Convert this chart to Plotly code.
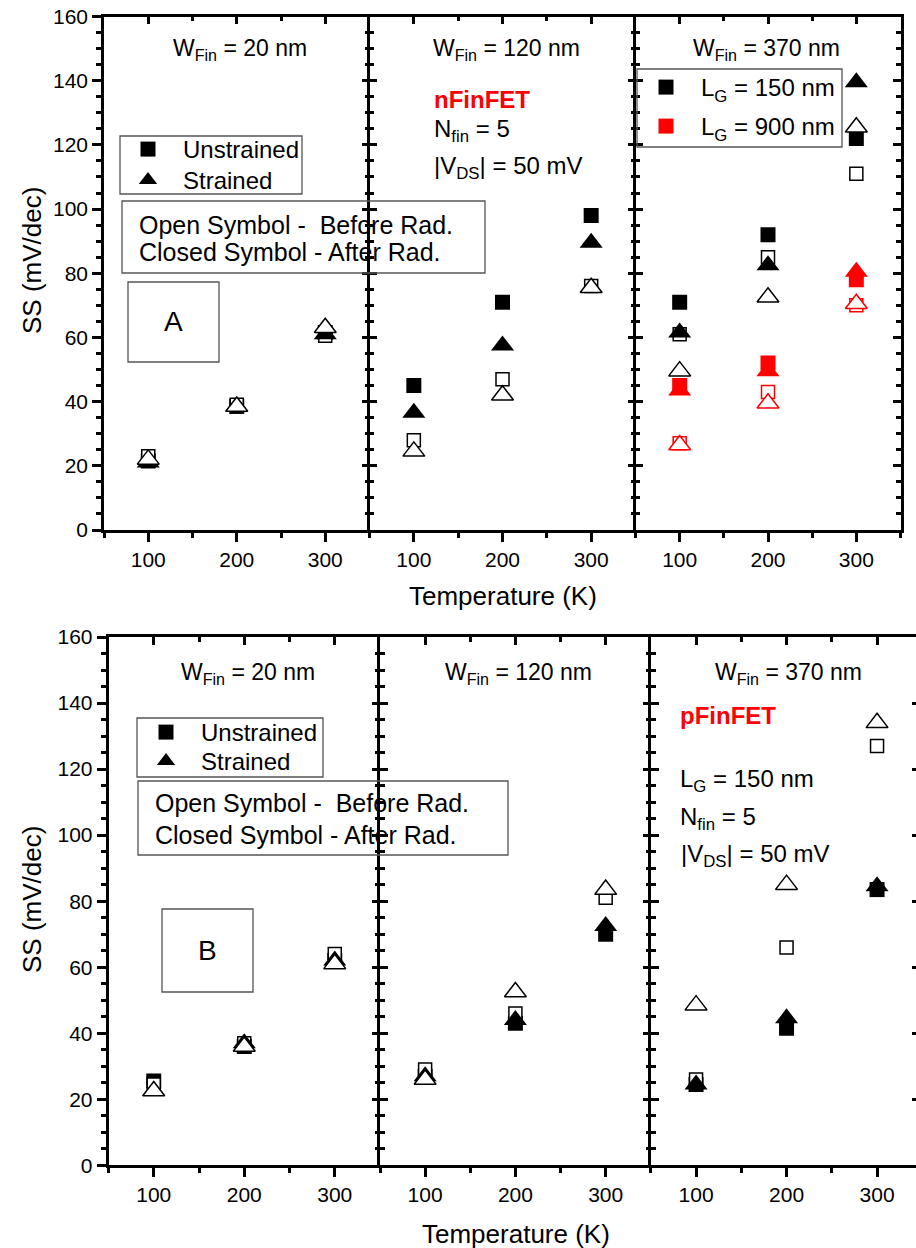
import plotly.graph_objects as go

FIG_W, FIG_H = 916, 1248
FONT = "Liberation Sans, Arial, Helvetica, sans-serif"

# ---------------- data: subthreshold swing SS (mV/dec) ----------------
temperature = [100, 200, 300]

# nFinFET, W_fin = 20 nm
n20_unstrained_after = [21.5, 38.5, 61.5]
n20_strained_after = [21, 38.5, 61]
n20_unstrained_before = [23, 39, 60.5]
n20_strained_before = [22, 38.5, 63]

# nFinFET, W_fin = 120 nm
n120_unstrained_after = [45, 71, 98]
n120_strained_after = [36.5, 57.5, 89.5]
n120_unstrained_before = [28, 47, 76]
n120_strained_before = [24.5, 42, 75.5]

# nFinFET, W_fin = 370 nm, L_G = 150 nm
n370_lg150_unstrained_after = [71, 92, 122]
n370_lg150_strained_after = [61.5, 82.5, 139.5]
n370_lg150_unstrained_before = [61, 85, 111]
n370_lg150_strained_before = [49.5, 72.5, 125.5]

# nFinFET, W_fin = 370 nm, L_G = 900 nm
n370_lg900_unstrained_after = [45, 52, 78]
n370_lg900_strained_after = [43.5, 49.5, 80.5]
n370_lg900_unstrained_before = [27, 43, 70]
n370_lg900_strained_before = [26.5, 39.5, 70.5]

# pFinFET, W_fin = 20 nm
p20_unstrained_after = [25.5, 36, 62]
p20_strained_after = [22.5, 37, 62]
p20_unstrained_before = [24.5, 37, 64]
p20_strained_before = [22.5, 36, 61]

# pFinFET, W_fin = 120 nm
p120_unstrained_after = [27, 43, 70]
p120_strained_after = [27, 44, 72.5]
p120_unstrained_before = [29, 46, 81]
p120_strained_before = [26, 52.5, 83.5]

# pFinFET, W_fin = 370 nm
p370_unstrained_after = [24.5, 41.5, 83.5]
p370_strained_after = [24.5, 44.5, 84.5]
p370_unstrained_before = [26, 66, 127]
p370_strained_before = [48.5, 85, 134]

x_tick_vals = [100, 200, 300]
x_minor_vals = [50, 150, 250, 350]
y_range = [0, 160]

BLACK = "#000000"
RED = "#FF0000"


def px(x):
    return x / FIG_W


def py(y):
    return 1 - y / FIG_H


def series_set(ua, sa, ub, sb, color):
    # draw order: closed square, open square, closed triangle, open triangle
    return [(ua, "square", color, True), (ub, "square", color, False),
            (sa, "triangle-up", color, True), (sb, "triangle-up", color, False)]


# panel layout in pixels: (x0, x1), (ytop, ybottom)
TOP_Y = (16.5, 530.0)
BOT_Y = (637.0, 1165.3)
top_cols = [(104.0, 369.5), (369.5, 635.5), (635.5, 900.5)]
bot_cols = [(108.5, 380.0), (380.0, 650.8), (650.8, 916.0)]
bot_scale = (bot_cols[0][1] - bot_cols[0][0]) / 300.0
bot_last_max = 50 + (bot_cols[2][1] - bot_cols[2][0]) / bot_scale

# right_line: "full" frame line, "shared" (line drawn by the next panel), "none"
panels = [
    dict(xd=top_cols[0], yd=TOP_Y, xr=[50, 350], first=True, right_line="shared",
         series=series_set(n20_unstrained_after, n20_strained_after,
                           n20_unstrained_before, n20_strained_before, BLACK)),
    dict(xd=top_cols[1], yd=TOP_Y, xr=[50, 350], first=False, right_line="shared",
         series=series_set(n120_unstrained_after, n120_strained_after,
                           n120_unstrained_before, n120_strained_before, BLACK)),
    dict(xd=top_cols[2], yd=TOP_Y, xr=[50, 350], first=False, right_line="full",
         series=series_set(n370_lg150_unstrained_after, n370_lg150_strained_after,
                           n370_lg150_unstrained_before, n370_lg150_strained_before, BLACK)
         + series_set(n370_lg900_unstrained_after, n370_lg900_strained_after,
                      n370_lg900_unstrained_before, n370_lg900_strained_before, RED)),
    dict(xd=bot_cols[0], yd=BOT_Y, xr=[50, 350], first=True, right_line="shared",
         series=series_set(p20_unstrained_after, p20_strained_after,
                           p20_unstrained_before, p20_strained_before, BLACK)),
    dict(xd=bot_cols[1], yd=BOT_Y, xr=[50, 350], first=False, right_line="shared",
         series=series_set(p120_unstrained_after, p120_strained_after,
                           p120_unstrained_before, p120_strained_before, BLACK)),
    dict(xd=bot_cols[2], yd=BOT_Y, xr=[50, bot_last_max], first=False, right_line="none",
         series=series_set(p370_unstrained_after, p370_strained_after,
                           p370_unstrained_before, p370_strained_before, BLACK)),
]

fig = go.Figure()
layout = {}
NP = len(panels)
LW = 2.5


def axname(kind, n):
    return f"{kind}axis" if n == 1 else f"{kind}axis{n}"


def axref(kind, n):
    return kind if n == 1 else f"{kind}{n}"


for i, p in enumerate(panels):
    n = i + 1
    nt = n + NP  # overlay axes: top x and right y
    common = dict(showgrid=False, zeroline=False, fixedrange=True,
                  linecolor=BLACK, linewidth=LW, tickcolor=BLACK, tickwidth=LW)
    # bottom x axis
    layout[axname("x", n)] = dict(
        common, domain=[px(p["xd"][0]), px(p["xd"][1])], range=p["xr"],
        anchor=axref("y", n), showline=True, ticks="outside", ticklen=9,
        tickmode="array", tickvals=x_tick_vals, ticktext=[str(v) for v in x_tick_vals],
        tickfont=dict(size=21, color=BLACK, family=FONT),
        minor=dict(tickmode="array", tickvals=x_minor_vals, ticks="outside",
                   ticklen=5, tickwidth=LW, tickcolor=BLACK))
    # top x axis (inward ticks)
    layout[axname("x", nt)] = dict(
        common, overlaying=axref("x", n), side="top", anchor=axref("y", n),
        range=p["xr"], showline=True, ticks="inside", ticklen=8,
        tickmode="array", tickvals=x_tick_vals, showticklabels=False,
        minor=dict(tickmode="array", tickvals=x_minor_vals, ticks="inside",
                   ticklen=5, tickwidth=LW, tickcolor=BLACK))
    # left y axis
    layout[axname("y", n)] = dict(
        common, domain=[py(p["yd"][1]), py(p["yd"][0])], range=y_range,
        anchor=axref("x", n), showline=True,
        ticks="outside" if p["first"] else "inside", ticklen=9 if p["first"] else 8,
        tickmode="linear", tick0=0, dtick=20, showticklabels=p["first"],
        tickfont=dict(size=21, color=BLACK, family=FONT),
        minor=dict(tickmode="linear", tick0=0, dtick=5,
                   ticks="outside" if p["first"] else "inside",
                   ticklen=5, tickwidth=LW, tickcolor=BLACK))
    # right y axis (inward ticks)
    right = dict(common, overlaying=axref("y", n), side="right", anchor=axref("x", n),
                 range=y_range, tickmode="linear", tick0=0, dtick=20,
                 showticklabels=False, ticks="inside")
    if p["right_line"] in ("full", "shared"):
        right.update(showline=(p["right_line"] == "full"), ticklen=8,
                     minor=dict(tickmode="linear", tick0=0, dtick=5, ticks="inside",
                                ticklen=5, tickwidth=LW, tickcolor=BLACK))
    else:
        right.update(showline=False, ticklen=4)
    layout[axname("y", nt)] = right

    # empty traces so that the frame axes (top / right) get rendered
    fig.add_trace(go.Scatter(x=[], y=[], xaxis=axref("x", nt), yaxis=axref("y", n),
                             showlegend=False, hoverinfo="skip"))
    fig.add_trace(go.Scatter(x=[], y=[], xaxis=axref("x", n), yaxis=axref("y", nt),
                             showlegend=False, hoverinfo="skip"))

    for vals, sym, color, filled in p["series"]:
        if filled:
            size = 15 if sym == "square" else 20
            marker = dict(symbol=sym, size=size, color=color, line=dict(width=0))
        else:
            size = 13 if sym == "square" else 19
            marker = dict(symbol=sym, size=size, color="white",
                          line=dict(width=1.5, color=color))
        fig.add_trace(go.Scatter(x=temperature, y=vals, mode="markers", marker=marker,
                                 xaxis=axref("x", n), yaxis=axref("y", n),
                                 showlegend=False, hoverinfo="skip"))

# legend keys: one single-entry legend per key (marker centre x, text middle y)
legend_keys = [
    ("Unstrained", "square", BLACK, 1, 148, 150),
    ("Strained", "triangle-up", BLACK, 1, 148, 181),
    ("L<sub>G</sub> = 150 nm", "square", BLACK, 3, 666, 88),
    ("L<sub>G</sub> = 900 nm", "square", RED, 3, 666, 127),
    ("Unstrained", "square", BLACK, 4, 166, 733),
    ("Strained", "triangle-up", BLACK, 4, 166, 762),
]
ITEM_W = 60
for k, (name, sym, color, n, mx, my) in enumerate(legend_keys):
    lg = "legend" if k == 0 else f"legend{k + 1}"
    fig.add_trace(go.Scatter(x=[None], y=[None], mode="markers", name=name,
                             marker=dict(symbol=sym, size=15 if sym == "square" else 18,
                                         color=color, line=dict(width=0)),
                             xaxis=axref("x", n), yaxis=axref("y", n),
                             legend=lg, showlegend=True, hoverinfo="skip"))
    layout[lg] = dict(xanchor="left", yanchor="top", bgcolor="rgba(0,0,0,0)",
                      borderwidth=0, font=dict(size=24, color=BLACK, family=FONT),
                      itemwidth=ITEM_W, x=px(mx - (5 + ITEM_W / 2)), y=py(my - 23))

shapes = []


def box(x0, y0, x1, y1):
    shapes.append(dict(type="rect", xref="paper", yref="paper",
                       x0=px(x0), x1=px(x1), y0=py(y1), y1=py(y0),
                       line=dict(color="#555555", width=1.3), fillcolor="rgba(0,0,0,0)"))


anns = []


def text(t, x, y, size, xanchor="left", color=BLACK, weight="normal", angle=0):
    anns.append(dict(text=t, x=px(x), y=py(y), xref="paper", yref="paper",
                     xanchor=xanchor, yanchor="middle", showarrow=False,
                     textangle=angle,
                     font=dict(size=size, color=color, family=FONT, weight=weight)))


# top row (nFinFET)
text("W<sub>Fin</sub> = 20 nm", 240, 50, 23, "center")
text("W<sub>Fin</sub> = 120 nm", 506, 50, 23, "center")
text("W<sub>Fin</sub> = 370 nm", 766, 50, 23, "center")
text("nFinFET", 432, 99, 24, color=RED, weight="bold")
text("N<sub>fin</sub> = 5", 432, 131, 24)
text("|V<sub>DS</sub>| = 50 mV", 432, 168, 24)
box(120, 136, 302, 194)
box(637, 69, 842, 147)
box(122, 201, 485, 273)
text("Open Symbol -  Before Rad.", 137, 225, 25)
text("Closed Symbol - After Rad.", 137, 252, 25)
box(128, 282, 219, 362)
text("A", 173, 322, 28, "center")
text("Temperature (K)", 503, 596, 26, "center")
text("SS (mV/dec)", 32, 261, 26, "center", angle=-90)

# bottom row (pFinFET)
text("W<sub>Fin</sub> = 20 nm", 248, 673, 23, "center")
text("W<sub>Fin</sub> = 120 nm", 518, 673, 23, "center")
text("W<sub>Fin</sub> = 370 nm", 788, 673, 23, "center")
text("pFinFET", 678, 715, 24, color=RED, weight="bold")
text("L<sub>G</sub> = 150 nm", 678, 780, 24)
text("N<sub>fin</sub> = 5", 678, 818, 24)
text("|V<sub>DS</sub>| = 50 mV", 679, 855, 24)
box(137, 718, 323, 777)
box(138, 781, 508, 855)
text("Open Symbol -  Before Rad.", 153, 803, 25)
text("Closed Symbol - After Rad.", 153, 835, 25)
box(162, 909, 253, 992)
text("B", 207, 950, 28, "center")
text("Temperature (K)", 516, 1234, 26, "center")
text("SS (mV/dec)", 32, 900, 26, "center", angle=-90)

layout.update(
    width=FIG_W, height=FIG_H,
    margin=dict(l=0, r=0, t=0, b=0, pad=0, autoexpand=False),
    paper_bgcolor="white", plot_bgcolor="white",
    font=dict(family=FONT, color=BLACK),
    showlegend=True, hovermode=False,
    shapes=shapes, annotations=anns,
)
fig.update_layout(layout)
fig.write_html("out.html", config={"displayModeBar": False})
